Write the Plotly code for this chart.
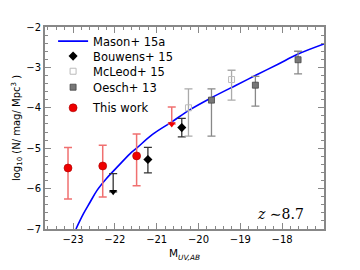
import plotly.graph_objects as go

# Mason+ 15a model curve
mason_x = [-22.93, -22.75, -22.6, -22.43, -22.2, -21.9, -21.64, -21.48, -21.1, -20.64, -20.21, -19.69, -19.1, -18.62, -18.1, -17.62, -17.0]
mason_y = [-7.0, -6.62, -6.35, -6.05, -5.75, -5.42, -5.14, -5.0, -4.66, -4.35, -4.05, -3.75, -3.44, -3.19, -2.92, -2.67, -2.42]

# Bouwens+ 15 detections
bouw_x = [-21.21, -20.40]
bouw_y = [-5.28, -4.49]
bouw_ep = [0.30, 0.23]
bouw_em = [0.33, 0.23]
# Bouwens+ 15 upper limit
bouw_ul_x = [-22.04]
bouw_ul_y = [-6.08]
bouw_ul_ep = [0.45]

# McLeod+ 15
mcl_x = [-20.24, -19.21]
mcl_y = [-4.00, -3.30]
mcl_ep = [0.47, 0.23]
mcl_em = [0.70, 0.51]

# Oesch+ 13
oes_x = [-19.69, -18.64, -17.62]
oes_y = [-3.81, -3.44, -2.81]
oes_ep = [0.28, 0.22, 0.21]
oes_em = [0.89, 0.52, 0.35]

# This work detections
tw_x = [-23.12, -22.29, -21.48]
tw_y = [-5.49, -5.44, -5.19]
tw_ep = [0.51, 0.51, 0.54]
tw_em = [0.77, 0.77, 0.74]
# This work upper limit
tw_ul_x = [-20.64]
tw_ul_y = [-4.40]
tw_ul_ep = [0.42]

xticks = [-23, -22, -21, -20, -19, -18]
yticks = [-7, -6, -5, -4, -3, -2]

fig = go.Figure()

fig.add_trace(go.Scatter(x=mason_x, y=mason_y, mode="lines", name="Mason+ 15a", legend="legend",
                         line=dict(color="#0000ff", width=1.6, shape="spline")))

fig.add_trace(go.Scatter(x=bouw_x, y=bouw_y, mode="markers", name="Bouwens+ 15", legend="legend2",
                         marker=dict(symbol="diamond", color="black", size=7),
                         error_y=dict(type="data", array=bouw_ep, arrayminus=bouw_em,
                                      color="#333333", thickness=1.3, width=4)))
fig.add_trace(go.Scatter(x=bouw_ul_x, y=bouw_ul_y, mode="markers", showlegend=False,
                         marker=dict(symbol="triangle-down", color="black", size=7),
                         error_y=dict(type="data", array=bouw_ul_ep, arrayminus=[0],
                                      color="#333333", thickness=1.3, width=4)))

fig.add_trace(go.Scatter(x=mcl_x, y=mcl_y, mode="markers", name="McLeod+ 15", legend="legend3",
                         marker=dict(symbol="square-open", color="#bbbbbb", size=6,
                                     line=dict(width=1)),
                         error_y=dict(type="data", array=mcl_ep, arrayminus=mcl_em,
                                      color="#aaaaaa", thickness=1.3, width=4)))

fig.add_trace(go.Scatter(x=oes_x, y=oes_y, mode="markers", name="Oesch+ 13", legend="legend4",
                         marker=dict(symbol="square", color="#777777", size=6,
                                     line=dict(color="#444444", width=0.8)),
                         error_y=dict(type="data", array=oes_ep, arrayminus=oes_em,
                                      color="#888888", thickness=1.3, width=4)))

fig.add_trace(go.Scatter(x=tw_x, y=tw_y, mode="markers", name="This work", legend="legend5",
                         marker=dict(symbol="circle", color="#ee0000", size=8,
                                     line=dict(color="#aa0000", width=0.6)),
                         error_y=dict(type="data", array=tw_ep, arrayminus=tw_em,
                                      color="#f07070", thickness=1.5, width=4)))
fig.add_trace(go.Scatter(x=tw_ul_x, y=tw_ul_y, mode="markers", showlegend=False,
                         marker=dict(symbol="triangle-down", color="#ee0000", size=7),
                         error_y=dict(type="data", array=tw_ul_ep, arrayminus=[0],
                                      color="#f07070", thickness=1.5, width=4)))

axis_common = dict(showgrid=False, zeroline=False, showline=True, linecolor="#888888",
                   linewidth=2, mirror="ticks", ticks="inside", ticklen=6, tickwidth=1,
                   tickcolor="#888888", tickfont=dict(size=10, color="black"))

fig.update_xaxes(range=[-23.67, -17.0], tickvals=xticks,
                 ticktext=["\u2212" + str(abs(v)) for v in xticks],
                 minor=dict(ticks="inside", dtick=0.2, ticklen=3, tickcolor="#888888"),
                 title=dict(text="M<sub><i>UV,AB</i></sub>", font=dict(size=10.5), standoff=6),
                 **axis_common)
fig.update_yaxes(range=[-7, -2], tickvals=yticks,
                 ticktext=["\u2212" + str(abs(v)) for v in yticks],
                 minor=dict(ticks="inside", dtick=0.2, ticklen=3, tickcolor="#888888"),
                 title=dict(text="log<sub>10</sub> (N/ mag/ Mpc<sup>3</sup> )", font=dict(size=10), standoff=4),
                 **axis_common)

fig.add_annotation(x=0.935, y=0.075, xref="paper", yref="paper", showarrow=False,
                   xanchor="right", yanchor="middle",
                   text="<i>z</i> \u223c8.7", font=dict(family="DejaVu Serif", size=14, color="black"))

legend_y = [0.93, 0.856, 0.781, 0.702, 0.60]
legend_common = dict(x=0.029, xanchor="left", yanchor="middle", bgcolor="rgba(0,0,0,0)",
                     font=dict(size=11.5), itemwidth=30)

fig.update_layout(width=360, height=270, margin=dict(l=45, r=36, t=27, b=28),
                  plot_bgcolor="white", paper_bgcolor="white",
                  font=dict(family="DejaVu Sans", color="black"),
                  legend=dict(y=legend_y[0], **legend_common),
                  legend2=dict(y=legend_y[1], **legend_common),
                  legend3=dict(y=legend_y[2], **legend_common),
                  legend4=dict(y=legend_y[3], **legend_common),
                  legend5=dict(y=legend_y[4], **legend_common))

fig.write_html("out.html", config={"displayModeBar": False},
               post_script="document.body.style.margin='0px';")
